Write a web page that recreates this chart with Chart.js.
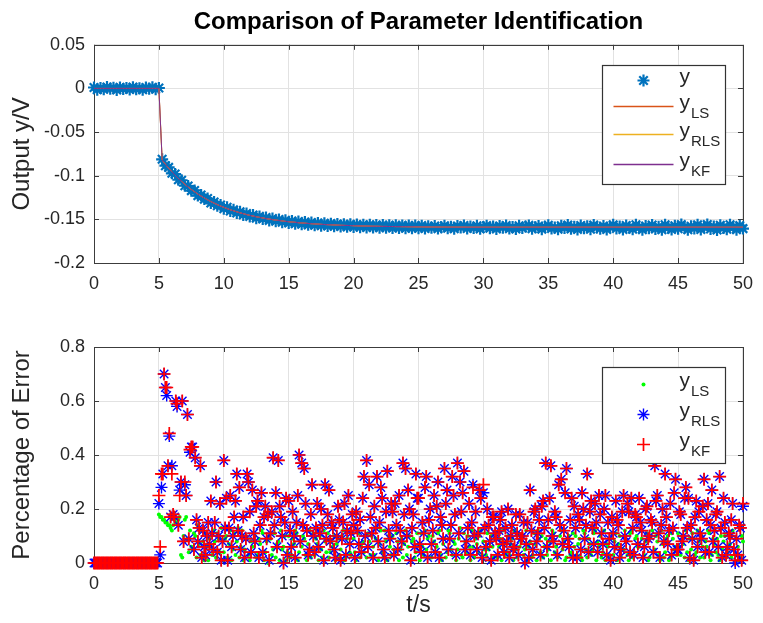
<!DOCTYPE html>
<html>
<head>
<meta charset="utf-8">
<title>Comparison of Parameter Identification</title>
<script src="https://cdn.jsdelivr.net/npm/chart.js@4.4.0/dist/chart.umd.min.js"></script>
<style>
  body { margin: 0; background: #fff; }
  #grafico-salida { position: absolute; left: 0; top: 0; }
  #grafico-error { position: absolute; left: 0; top: 300px; }
</style>
</head>
<body>
<canvas id="grafico-salida" width="763" height="300"></canvas>
<canvas id="grafico-error" width="763" height="323"></canvas>
<script>
// Paso de muestreo (s) de cada subgráfico
var pasoSalida = 0.25;
var pasoError = 0.1;

// Marcas de los ejes
var ticksTiempo = [0, 5, 10, 15, 20, 25, 30, 35, 40, 45, 50];
var ticksSalida = [-0.2, -0.15, -0.1, -0.05, 0, 0.05];
var ticksError = [0, 0.2, 0.4, 0.6, 0.8];

// Salida medida y (asteriscos), t = 0 .. 50 cada 0.25 s
var salidaMedida = [
    0.0011, -0.0014, 0.0006, -0.0009, 0.0016, -0.0003, 0.0008, -0.0017, 0.0012, -0.0006,
    0.0004, -0.0012, 0.0015, -0.0008, 0.0002, -0.0015, 0.0010, -0.0004, 0.0013, -0.0010, 0.0005,
    -0.0812, -0.0885, -0.0904, -0.0972, -0.0981, -0.1046, -0.1052, -0.1115, -0.1118, -0.1171,
    -0.1169, -0.1228, -0.1220, -0.1268, -0.1261, -0.1313, -0.1301, -0.1345, -0.1336, -0.1378,
    -0.1362, -0.1404, -0.1391, -0.1428, -0.1412, -0.1449, -0.1433, -0.1468, -0.1450, -0.1486,
    -0.1466, -0.1497, -0.1479, -0.1512, -0.1490, -0.1522, -0.1501, -0.1533, -0.1511, -0.1542,
    -0.1518, -0.1550, -0.1525, -0.1556, -0.1531, -0.1563, -0.1537, -0.1568, -0.1541, -0.1572,
    -0.1546, -0.1577, -0.1549, -0.1579, -0.1553, -0.1583, -0.1555, -0.1586, -0.1557, -0.1588,
    -0.1560, -0.1591, -0.1562, -0.1593, -0.1563, -0.1594, -0.1565, -0.1596, -0.1566, -0.1597,
    -0.1567, -0.1599, -0.1568, -0.1600, -0.1569, -0.1601, -0.1570, -0.1602, -0.1571, -0.1603,
    -0.1572, -0.1604, -0.1580, -0.1597, -0.1575, -0.1606, -0.1589, -0.1573, -0.1602, -0.1585,
    -0.1608, -0.1576, -0.1594, -0.1571, -0.1605, -0.1583, -0.1600, -0.1574, -0.1609, -0.1587,
    -0.1572, -0.1603, -0.1581, -0.1610, -0.1576, -0.1596, -0.1570, -0.1606, -0.1588, -0.1611,
    -0.1574, -0.1599, -0.1582, -0.1569, -0.1607, -0.1591, -0.1576, -0.1612, -0.1584, -0.1568,
    -0.1604, -0.1593, -0.1614, -0.1573, -0.1598, -0.1566, -0.1609, -0.1585, -0.1615, -0.1571,
    -0.1601, -0.1579, -0.1613, -0.1564, -0.1594, -0.1608, -0.1575, -0.1616, -0.1586, -0.1563,
    -0.1605, -0.1581, -0.1617, -0.1570, -0.1597, -0.1612, -0.1562, -0.1590, -0.1618, -0.1577,
    -0.1603, -0.1565, -0.1611, -0.1584, -0.1619, -0.1561, -0.1596, -0.1615, -0.1573, -0.1607,
    -0.1560, -0.1592, -0.1620, -0.1578, -0.1604, -0.1563, -0.1617, -0.1587, -0.1559, -0.1610,
    -0.1582, -0.1621, -0.1567, -0.1599, -0.1614, -0.1561, -0.1593, -0.1618, -0.1572, -0.1606
];

// Salida de los modelos identificados (LS, RLS y KF quedan superpuestas)
var salidaModelo = [
    0, 0, 0, 0, 0, 0, 0, 0, 0, 0,
    0, 0, 0, 0, 0, 0, 0, 0, 0, 0, 0,
    -0.0820, -0.0868, -0.0913, -0.0955, -0.0994, -0.1031, -0.1066, -0.1098, -0.1129, -0.1158,
    -0.1184, -0.1210, -0.1233, -0.1255, -0.1276, -0.1296, -0.1314, -0.1331, -0.1347, -0.1362,
    -0.1376, -0.1390, -0.1402, -0.1414, -0.1425, -0.1435, -0.1445, -0.1454, -0.1462, -0.1470,
    -0.1477, -0.1484, -0.1491, -0.1497, -0.1503, -0.1508, -0.1513, -0.1518, -0.1523, -0.1527,
    -0.1531, -0.1534, -0.1538, -0.1541, -0.1544, -0.1547, -0.1550, -0.1552, -0.1554, -0.1557,
    -0.1559, -0.1561, -0.1562, -0.1564, -0.1566, -0.1568, -0.1569, -0.1570, -0.1571, -0.1573,
    -0.1574, -0.1575, -0.1576, -0.1577, -0.1578, -0.1579, -0.1579, -0.1580, -0.1581, -0.1581,
    -0.1582, -0.1582, -0.1583, -0.1583, -0.1584, -0.1584, -0.1585, -0.1585, -0.1586, -0.1586,
    -0.1586, -0.1587, -0.1587, -0.1587, -0.1588, -0.1588, -0.1588, -0.1588, -0.1589, -0.1589,
    -0.1589, -0.1589, -0.1589, -0.1589, -0.1590, -0.1590, -0.1590, -0.1590, -0.1590, -0.1590,
    -0.159, -0.159, -0.159, -0.159, -0.159, -0.159, -0.159, -0.159, -0.159, -0.159,
    -0.159, -0.159, -0.159, -0.159, -0.159, -0.159, -0.159, -0.159, -0.159, -0.159,
    -0.159, -0.159, -0.159, -0.159, -0.159, -0.159, -0.159, -0.159, -0.159, -0.159,
    -0.159, -0.159, -0.159, -0.159, -0.159, -0.159, -0.159, -0.159, -0.159, -0.159,
    -0.159, -0.159, -0.159, -0.159, -0.159, -0.159, -0.159, -0.159, -0.159, -0.159,
    -0.159, -0.159, -0.159, -0.159, -0.159, -0.159, -0.159, -0.159, -0.159, -0.159,
    -0.159, -0.159, -0.159, -0.159, -0.159, -0.159, -0.159, -0.159, -0.159, -0.159,
    -0.159, -0.159, -0.159, -0.159, -0.159, -0.159, -0.159, -0.159, -0.159, -0.159
];

// Porcentaje de error, t = 0 .. 50 cada 0.1 s (una fila por segundo desde t = 5)
var errorLS = [
    0, 0, 0, 0, 0, 0, 0, 0, 0, 0,
    0, 0, 0, 0, 0, 0, 0, 0, 0, 0,
    0, 0, 0, 0, 0, 0, 0, 0, 0, 0,
    0, 0, 0, 0, 0, 0, 0, 0, 0, 0,
    0, 0, 0, 0, 0, 0, 0, 0, 0, 0,
    0.18, 0.17, 0.17, 0.16, 0.16, 0.15, 0.15, 0.14, 0.14, 0.13,
    0.12, 0.14, 0.16, 0.15, 0.15, 0.16, 0.17, 0.03, 0.02, 0.10,
    0.16, 0.17, 0.09, 0.04, 0.12, 0.06, 0.05, 0.11, 0.10, 0.02,
    0.14, 0.07, 0.03, 0.12, 0.08, 0.01, 0.11, 0.06, 0.01, 0.09,
    0.06, 0.03, 0.12, 0.08, 0.02, 0.11, 0.09, 0.04, 0.13, 0.01,
    0.04, 0.09, 0.10, 0.02, 0.07, 0.12, 0.01, 0.05, 0.11, 0.03,
    0.08, 0.13, 0.02, 0.06, 0.12, 0.01, 0.05, 0.10, 0.09, 0.03,
    0.01, 0.08, 0.06, 0.11, 0.10, 0.02, 0.03, 0.09, 0.07, 0.12,
    0.11, 0.01, 0.04, 0.08, 0.00, 0.10, 0.09, 0.03, 0.05, 0.11,
    0.02, 0.07, 0.08, 0.01, 0.12, 0.05, 0.06, 0.10, 0.01, 0.04,
    0.10, 0.02, 0.03, 0.09, 0.07, 0.12, 0.11, 0.01, 0.04, 0.08,
    0.06, 0.10, 0.09, 0.03, 0.01, 0.07, 0.12, 0.02, 0.05, 0.11,
    0.03, 0.09, 0.07, 0.01, 0.10, 0.05, 0.02, 0.12, 0.08, 0.04,
    0.11, 0.02, 0.04, 0.08, 0.06, 0.10, 0.01, 0.07, 0.09, 0.03,
    0.05, 0.10, 0.12, 0.01, 0.02, 0.09, 0.07, 0.04, 0.03, 0.11,
    0.09, 0.04, 0.01, 0.12, 0.11, 0.02, 0.06, 0.08, 0.04, 0.10,
    0.02, 0.11, 0.08, 0.03, 0.10, 0.06, 0.03, 0.09, 0.13, 0.01,
    0.07, 0.12, 0.04, 0.02, 0.12, 0.08, 0.01, 0.10, 0.06, 0.03,
    0.10, 0.05, 0.03, 0.11, 0.08, 0.01, 0.05, 0.09, 0.02, 0.07,
    0.12, 0.03, 0.06, 0.10, 0.01, 0.08, 0.09, 0.02, 0.04, 0.11,
    0.07, 0.01, 0.11, 0.06, 0.03, 0.12, 0.05, 0.09, 0.10, 0.02,
    0.02, 0.10, 0.08, 0.04, 0.06, 0.11, 0.12, 0.03, 0.01, 0.07,
    0.09, 0.02, 0.04, 0.12, 0.11, 0.05, 0.03, 0.08, 0.07, 0.01,
    0.05, 0.09, 0.13, 0.03, 0.02, 0.11, 0.08, 0.04, 0.10, 0.06,
    0.01, 0.12, 0.06, 0.02, 0.09, 0.07, 0.04, 0.10, 0.12, 0.03,
    0.08, 0.05, 0.03, 0.11, 0.05, 0.01, 0.10, 0.06, 0.02, 0.09,
    0.11, 0.02, 0.06, 0.09, 0.01, 0.12, 0.07, 0.03, 0.04, 0.10,
    0.03, 0.07, 0.09, 0.01, 0.12, 0.05, 0.02, 0.11, 0.06, 0.08,
    0.10, 0.03, 0.05, 0.12, 0.01, 0.06, 0.08, 0.02, 0.03, 0.11,
    0.07, 0.01, 0.12, 0.09, 0.04, 0.10, 0.02, 0.06, 0.09, 0.03,
    0.05, 0.08, 0.01, 0.12, 0.11, 0.04, 0.06, 0.02, 0.03, 0.10,
    0.12, 0.05, 0.08, 0.01, 0.02, 0.09, 0.10, 0.03, 0.04, 0.11,
    0.06, 0.10, 0.03, 0.07, 0.09, 0.02, 0.01, 0.12, 0.11, 0.05,
    0.02, 0.09, 0.07, 0.03, 0.05, 0.11, 0.12, 0.01, 0.08, 0.06,
    0.10, 0.02, 0.04, 0.12, 0.01, 0.07, 0.06, 0.03, 0.09, 0.11,
    0.03, 0.08, 0.11, 0.01, 0.07, 0.10, 0.02, 0.05, 0.05, 0.12,
    0.08, 0.03, 0.01, 0.11, 0.12, 0.02, 0.04, 0.09, 0.10, 0.06,
    0.06, 0.12, 0.09, 0.02, 0.03, 0.08, 0.11, 0.01, 0.02, 0.10,
    0.12, 0.04, 0.05, 0.10, 0.08, 0.03, 0.01, 0.12, 0.07, 0.02,
    0.04, 0.09, 0.10, 0.01, 0.02, 0.11, 0.09, 0.05, 0.06, 0.03,
    0.11, 0.06, 0.03, 0.10, 0.07, 0.02, 0.12, 0.04, 0.01, 0.09,
    0.05, 0.11, 0.09, 0.03, 0.04, 0.12, 0.08, 0.02, 0.10, 0.06,
    0.02, 0.08, 0.06, 0.12, 0.11, 0.01, 0.03, 0.09, 0.07, 0.04,
    0.09, 0.03, 0.01, 0.10, 0.05, 0.08, 0.10, 0.02, 0.04, 0.11,
    0.07, 0.02, 0.12, 0.05, 0.03, 0.09, 0.06, 0.01, 0.02, 0.10,
    0.08
];

var errorRLS = [
    0, 0, 0, 0, 0, 0, 0, 0, 0, 0,
    0, 0, 0, 0, 0, 0, 0, 0, 0, 0,
    0, 0, 0, 0, 0, 0, 0, 0, 0, 0,
    0, 0, 0, 0, 0, 0, 0, 0, 0, 0,
    0, 0, 0, 0, 0, 0, 0, 0, 0, 0,
    0.22, 0.03, 0.28, 0.33, 0.70, 0.65, 0.62, 0.36, 0.47, 0.17,
    0.36, 0.18, 0.17, 0.60, 0.58, 0.14, 0.27, 0.30, 0.60, 0.08,
    0.29, 0.25, 0.55, 0.09, 0.41, 0.43, 0.43, 0.05, 0.39, 0.16,
    0.08, 0.13, 0.36, 0.02, 0.12, 0.06, 0.03, 0.10, 0.15, 0.07,
    0.23, 0.11, 0.05, 0.15, 0.30, 0.04, 0.10, 0.22, 0.01, 0.08,
    0.38, 0.13, 0.24, 0.01, 0.13, 0.25, 0.06, 0.10, 0.17, 0.23,
    0.33, 0.12, 0.28, 0.05, 0.10, 0.17, 0.02, 0.09, 0.33, 0.30,
    0.19, 0.04, 0.27, 0.11, 0.08, 0.21, 0.23, 0.02, 0.14, 0.26,
    0.04, 0.17, 0.21, 0.09, 0.18, 0.01, 0.11, 0.19, 0.39, 0.14,
    0.26, 0.06, 0.38, 0.21, 0.17, 0.10, 0.00, 0.15, 0.24, 0.03,
    0.23, 0.12, 0.06, 0.19, 0.10, 0.02, 0.15, 0.25, 0.40, 0.08,
    0.37, 0.14, 0.35, 0.22, 0.12, 0.03, 0.05, 0.18, 0.29, 0.10,
    0.04, 0.13, 0.22, 0.06, 0.11, 0.20, 0.14, 0.01, 0.29, 0.09,
    0.18, 0.27, 0.08, 0.15, 0.13, 0.05, 0.02, 0.10, 0.21, 0.16,
    0.01, 0.09, 0.15, 0.22, 0.03, 0.12, 0.25, 0.07, 0.11, 0.18,
    0.14, 0.02, 0.19, 0.12, 0.07, 0.16, 0.04, 0.24, 0.32, 0.10,
    0.38, 0.06, 0.29, 0.17, 0.11, 0.02, 0.21, 0.13, 0.32, 0.08,
    0.15, 0.28, 0.24, 0.05, 0.02, 0.19, 0.34, 0.12, 0.09, 0.22,
    0.19, 0.03, 0.22, 0.14, 0.05, 0.25, 0.12, 0.08, 0.37, 0.18,
    0.35, 0.10, 0.27, 0.20, 0.01, 0.13, 0.18, 0.06, 0.33, 0.24,
    0.24, 0.07, 0.04, 0.15, 0.11, 0.28, 0.32, 0.02, 0.16, 0.20,
    0.07, 0.12, 0.25, 0.04, 0.21, 0.30, 0.02, 0.17, 0.14, 0.09,
    0.35, 0.22, 0.27, 0.05, 0.09, 0.14, 0.32, 0.25, 0.18, 0.03,
    0.37, 0.11, 0.30, 0.19, 0.26, 0.34, 0.05, 0.08, 0.13, 0.22,
    0.03, 0.15, 0.29, 0.10, 0.19, 0.05, 0.11, 0.27, 0.24, 0.02,
    0.26, 0.13, 0.06, 0.20, 0.14, 0.08, 0.01, 0.17, 0.17, 0.11,
    0.09, 0.03, 0.12, 0.16, 0.19, 0.07, 0.04, 0.13, 0.08, 0.20,
    0.02, 0.10, 0.14, 0.05, 0.06, 0.18, 0.11, 0.03, 0.18, 0.09,
    0.10, 0.15, 0.00, 0.07, 0.15, 0.02, 0.27, 0.12, 0.05, 0.19,
    0.20, 0.08, 0.11, 0.16, 0.03, 0.21, 0.23, 0.13, 0.37, 0.06,
    0.16, 0.24, 0.36, 0.10, 0.08, 0.19, 0.17, 0.03, 0.29, 0.14,
    0.31, 0.07, 0.12, 0.26, 0.35, 0.09, 0.06, 0.16, 0.24, 0.02,
    0.21, 0.13, 0.02, 0.18, 0.16, 0.05, 0.26, 0.20, 0.09, 0.14,
    0.33, 0.04, 0.19, 0.23, 0.13, 0.07, 0.22, 0.15, 0.04, 0.25,
    0.18, 0.11, 0.07, 0.20, 0.25, 0.03, 0.15, 0.09, 0.01, 0.17,
    0.11, 0.06, 0.23, 0.16, 0.14, 0.02, 0.05, 0.19, 0.25, 0.10,
    0.08, 0.22, 0.19, 0.04, 0.24, 0.13, 0.03, 0.18, 0.17, 0.07,
    0.24, 0.15, 0.12, 0.02, 0.06, 0.20, 0.21, 0.09, 0.10, 0.16,
    0.15, 0.04, 0.36, 0.23, 0.25, 0.11, 0.02, 0.14, 0.20, 0.08,
    0.33, 0.17, 0.07, 0.12, 0.22, 0.03, 0.13, 0.26, 0.31, 0.05,
    0.05, 0.19, 0.18, 0.08, 0.10, 0.24, 0.28, 0.13, 0.24, 0.02,
    0.14, 0.09, 0.01, 0.17, 0.23, 0.06, 0.19, 0.11, 0.09, 0.21,
    0.31, 0.04, 0.16, 0.22, 0.04, 0.14, 0.27, 0.08, 0.12, 0.18,
    0.19, 0.06, 0.32, 0.13, 0.02, 0.24, 0.15, 0.03, 0.06, 0.11,
    0.10, 0.16, 0.22, 0.05, 0.00, 0.09, 0.03, 0.14, 0.13, 0.01,
    0.21
];

var errorKF = [
    0, 0, 0, 0, 0, 0, 0, 0, 0, 0,
    0, 0, 0, 0, 0, 0, 0, 0, 0, 0,
    0, 0, 0, 0, 0, 0, 0, 0, 0, 0,
    0, 0, 0, 0, 0, 0, 0, 0, 0, 0,
    0, 0, 0, 0, 0, 0, 0, 0, 0, 0,
    0.25, 0.06, 0.33, 0.33, 0.70, 0.65, 0.65, 0.36, 0.48, 0.17,
    0.33, 0.18, 0.17, 0.60, 0.59, 0.14, 0.25, 0.30, 0.60, 0.08,
    0.30, 0.25, 0.55, 0.09, 0.42, 0.43, 0.43, 0.05, 0.39, 0.16,
    0.08, 0.13, 0.36, 0.02, 0.12, 0.06, 0.03, 0.10, 0.15, 0.07,
    0.23, 0.11, 0.05, 0.15, 0.30, 0.04, 0.10, 0.22, 0.01, 0.08,
    0.38, 0.13, 0.24, 0.01, 0.13, 0.25, 0.06, 0.10, 0.17, 0.23,
    0.33, 0.12, 0.28, 0.05, 0.10, 0.17, 0.02, 0.09, 0.33, 0.30,
    0.19, 0.04, 0.27, 0.11, 0.08, 0.21, 0.23, 0.02, 0.14, 0.26,
    0.04, 0.17, 0.21, 0.09, 0.18, 0.01, 0.11, 0.19, 0.39, 0.14,
    0.26, 0.06, 0.38, 0.21, 0.17, 0.10, 0.00, 0.15, 0.24, 0.03,
    0.23, 0.12, 0.06, 0.19, 0.10, 0.02, 0.15, 0.25, 0.40, 0.08,
    0.37, 0.14, 0.35, 0.22, 0.12, 0.03, 0.05, 0.18, 0.29, 0.10,
    0.04, 0.13, 0.22, 0.06, 0.11, 0.20, 0.14, 0.01, 0.29, 0.09,
    0.18, 0.27, 0.08, 0.15, 0.13, 0.05, 0.02, 0.10, 0.21, 0.16,
    0.01, 0.09, 0.15, 0.22, 0.03, 0.12, 0.25, 0.07, 0.11, 0.18,
    0.14, 0.02, 0.19, 0.12, 0.07, 0.16, 0.04, 0.24, 0.32, 0.10,
    0.38, 0.06, 0.29, 0.17, 0.11, 0.02, 0.21, 0.13, 0.32, 0.08,
    0.15, 0.28, 0.24, 0.05, 0.02, 0.19, 0.34, 0.12, 0.09, 0.22,
    0.19, 0.03, 0.22, 0.14, 0.05, 0.25, 0.12, 0.08, 0.37, 0.18,
    0.35, 0.10, 0.27, 0.20, 0.01, 0.13, 0.18, 0.06, 0.33, 0.24,
    0.24, 0.07, 0.04, 0.15, 0.11, 0.28, 0.32, 0.02, 0.16, 0.20,
    0.07, 0.12, 0.25, 0.04, 0.21, 0.30, 0.02, 0.17, 0.14, 0.09,
    0.35, 0.22, 0.27, 0.05, 0.09, 0.14, 0.32, 0.25, 0.18, 0.03,
    0.37, 0.11, 0.30, 0.19, 0.26, 0.34, 0.05, 0.08, 0.13, 0.22,
    0.03, 0.15, 0.28, 0.10, 0.19, 0.05, 0.11, 0.27, 0.24, 0.02,
    0.29, 0.13, 0.06, 0.20, 0.14, 0.08, 0.01, 0.17, 0.17, 0.11,
    0.09, 0.03, 0.12, 0.16, 0.19, 0.07, 0.04, 0.13, 0.08, 0.20,
    0.02, 0.10, 0.14, 0.05, 0.06, 0.18, 0.11, 0.03, 0.18, 0.09,
    0.10, 0.15, 0.00, 0.07, 0.15, 0.02, 0.27, 0.12, 0.05, 0.19,
    0.20, 0.08, 0.11, 0.16, 0.03, 0.21, 0.23, 0.13, 0.37, 0.06,
    0.16, 0.24, 0.36, 0.10, 0.08, 0.19, 0.17, 0.03, 0.29, 0.14,
    0.31, 0.07, 0.12, 0.26, 0.35, 0.09, 0.06, 0.16, 0.24, 0.02,
    0.21, 0.13, 0.02, 0.18, 0.16, 0.05, 0.26, 0.20, 0.09, 0.14,
    0.33, 0.04, 0.19, 0.23, 0.13, 0.07, 0.22, 0.15, 0.04, 0.25,
    0.18, 0.11, 0.07, 0.20, 0.25, 0.03, 0.15, 0.09, 0.01, 0.17,
    0.11, 0.06, 0.23, 0.16, 0.14, 0.02, 0.05, 0.19, 0.25, 0.10,
    0.08, 0.22, 0.19, 0.04, 0.24, 0.13, 0.03, 0.18, 0.17, 0.07,
    0.24, 0.15, 0.12, 0.02, 0.06, 0.20, 0.21, 0.09, 0.10, 0.16,
    0.15, 0.04, 0.36, 0.23, 0.25, 0.11, 0.02, 0.14, 0.20, 0.08,
    0.33, 0.17, 0.07, 0.12, 0.22, 0.03, 0.13, 0.26, 0.31, 0.05,
    0.05, 0.19, 0.18, 0.08, 0.10, 0.24, 0.28, 0.13, 0.24, 0.02,
    0.14, 0.09, 0.01, 0.17, 0.23, 0.06, 0.19, 0.11, 0.09, 0.21,
    0.31, 0.04, 0.16, 0.22, 0.04, 0.14, 0.27, 0.08, 0.12, 0.18,
    0.19, 0.06, 0.32, 0.13, 0.02, 0.24, 0.15, 0.03, 0.06, 0.11,
    0.10, 0.16, 0.22, 0.05, 0.01, 0.09, 0.03, 0.14, 0.13, 0.01,
    0.22
];

var fuente = '"Liberation Sans", Arial, Helvetica, sans-serif';
var colorTexto = '#262626';
var colorEjes = '#3c3c3c';
var colorRejilla = '#e2e2e2';

// Convierte una lista de valores en puntos {x, y} con su tiempo
function aPuntos(valores, paso) {
    return valores.map(function(v, i) {
        return { x: Math.round(i * paso * 100) / 100, y: v };
    });
}

// Dibuja una marca de punto (asterisco, cruz o punto)
function dibujarMarca(ctx, estilo, x, y, r, color, grosor) {
    ctx.save();
    ctx.strokeStyle = color;
    ctx.fillStyle = color;
    ctx.lineWidth = grosor;
    ctx.beginPath();
    if (estilo === 'circle') {
        ctx.arc(x, y, r, 0, Math.PI * 2);
        ctx.fill();
    } else {
        ctx.moveTo(x - r, y); ctx.lineTo(x + r, y);
        ctx.moveTo(x, y - r); ctx.lineTo(x, y + r);
        if (estilo === 'star') {
            var d = r * Math.SQRT1_2;
            ctx.moveTo(x - d, y - d); ctx.lineTo(x + d, y + d);
            ctx.moveTo(x - d, y + d); ctx.lineTo(x + d, y - d);
        }
        ctx.stroke();
    }
    ctx.restore();
}

// Caja de ejes con las marcas hacia dentro (estilo MATLAB)
var pluginMarco = {
    id: 'marco',
    beforeDatasetsDraw: function(chart) {
        var ctx = chart.ctx, a = chart.chartArea;
        var ex = chart.scales.x, ey = chart.scales.y;
        ctx.save();
        ctx.strokeStyle = colorEjes;
        ctx.lineWidth = 1;
        ctx.beginPath();
        ex.ticks.forEach(function(t) {
            var px = Math.round(ex.getPixelForValue(t.value)) + 0.5;
            ctx.moveTo(px, a.bottom); ctx.lineTo(px, a.bottom - 5);
            ctx.moveTo(px, a.top); ctx.lineTo(px, a.top + 5);
        });
        ey.ticks.forEach(function(t) {
            var py = Math.round(ey.getPixelForValue(t.value)) + 0.5;
            ctx.moveTo(a.left, py); ctx.lineTo(a.left + 5, py);
            ctx.moveTo(a.right, py); ctx.lineTo(a.right - 5, py);
        });
        ctx.stroke();
        ctx.strokeRect(Math.round(a.left) + 0.5, Math.round(a.top) + 0.5,
            Math.round(a.right - a.left), Math.round(a.bottom - a.top));
        ctx.restore();
    }
};

// Leyenda con subíndices dentro del área del gráfico
var pluginLeyenda = {
    id: 'leyenda',
    afterDraw: function(chart, args, opts) {
        var ctx = chart.ctx, a = chart.chartArea;
        var x0 = Math.round(a.right - opts.derecha - opts.ancho) + 0.5;
        var y0 = Math.round(a.top + opts.arriba) + 0.5;
        ctx.save();
        ctx.fillStyle = '#fff';
        ctx.fillRect(x0, y0, opts.ancho, opts.alto);
        ctx.strokeStyle = '#333';
        ctx.lineWidth = 1.2;
        ctx.strokeRect(x0, y0, opts.ancho, opts.alto);
        opts.items.forEach(function(it) {
            var ds = chart.data.datasets[it.dataset];
            var cy = y0 + it.fila;
            if (ds.showLine) {
                ctx.strokeStyle = ds.borderColor;
                ctx.lineWidth = 1.5;
                ctx.beginPath();
                ctx.moveTo(x0 + 11, cy); ctx.lineTo(x0 + 71, cy);
                ctx.stroke();
            } else {
                dibujarMarca(ctx, ds.pointStyle, x0 + 41, cy, ds.pointRadius,
                    ds.pointStyle === 'circle' ? ds.backgroundColor : ds.borderColor, ds.borderWidth);
            }
            ctx.fillStyle = colorTexto;
            ctx.textBaseline = 'middle';
            ctx.textAlign = 'left';
            ctx.font = '21px ' + fuente;
            ctx.fillText('y', x0 + 77, cy - 3);
            var w = ctx.measureText('y').width;
            if (it.sub) {
                ctx.font = '15px ' + fuente;
                ctx.fillText(it.sub, x0 + 77 + w + 1, cy + 7);
            }
        });
        ctx.restore();
    }
};

function ejeTiempo(titulo) {
    return {
        type: 'linear',
        min: 0,
        max: 50,
        afterBuildTicks: function(s) { s.ticks = ticksTiempo.map(function(v) { return { value: v }; }); },
        afterFit: function(s) { s.height = titulo ? 60 : 37; },
        grid: { color: colorRejilla, drawTicks: false },
        border: { display: false },
        ticks: {
            padding: 10,
            color: colorTexto,
            font: { family: fuente, size: 18 },
            maxRotation: 0,
            callback: function(v) { return String(v); }
        },
        title: {
            display: !!titulo,
            text: titulo || '',
            color: colorTexto,
            font: { family: fuente, size: 23 },
            padding: { top: 0, bottom: 4 }
        }
    };
}

function ejeValor(titulo, marcas) {
    return {
        type: 'linear',
        min: marcas[0],
        max: marcas[marcas.length - 1],
        afterBuildTicks: function(s) { s.ticks = marcas.map(function(v) { return { value: v }; }); },
        afterFit: function(s) { s.width = 94; },
        grid: { color: colorRejilla, drawTicks: false },
        border: { display: false },
        ticks: {
            padding: 9,
            color: colorTexto,
            font: { family: fuente, size: 18 },
            callback: function(v) { return String(v); }
        },
        title: {
            display: true,
            text: titulo,
            color: colorTexto,
            font: { family: fuente, size: 24 },
            padding: { top: 8, bottom: 0 }
        }
    };
}

// Gráfico superior: salida medida y salidas identificadas
new Chart(document.getElementById('grafico-salida'), {
    type: 'scatter',
    data: {
        datasets: [
            { label: 'y', data: aPuntos(salidaMedida, pasoSalida), pointStyle: 'star', pointRadius: 6,
              borderColor: '#0072bd', backgroundColor: '#0072bd', borderWidth: 2.2, order: 3, clip: false },
            { label: 'yLS', data: aPuntos(salidaModelo, pasoSalida), showLine: true, pointRadius: 0,
              borderColor: '#d95319', borderWidth: 1, order: 2 },
            { label: 'yRLS', data: aPuntos(salidaModelo, pasoSalida), showLine: true, pointRadius: 0,
              borderColor: '#edb120', borderWidth: 1, order: 1 },
            { label: 'yKF', data: aPuntos(salidaModelo, pasoSalida), showLine: true, pointRadius: 0,
              borderColor: '#7e2f8e', borderWidth: 1, order: 0 }
        ]
    },
    options: {
        responsive: false,
        animation: false,
        devicePixelRatio: 1,
        layout: { padding: { left: 0, right: 14, top: 0, bottom: 0 } },
        scales: {
            x: ejeTiempo(''),
            y: ejeValor('Output y/V', ticksSalida)
        },
        plugins: {
            legend: { display: false },
            tooltip: { enabled: false },
            title: {
                display: true,
                fullSize: false,
                text: 'Comparison of Parameter Identification',
                color: '#000',
                font: { family: fuente, size: 24, weight: 'bold' },
                padding: { top: 8, bottom: 8 }
            },
            leyenda: {
                derecha: 18, arriba: 20, ancho: 123, alto: 119,
                items: [
                    { dataset: 0, sub: '', fila: 15 },
                    { dataset: 1, sub: 'LS', fila: 41 },
                    { dataset: 2, sub: 'RLS', fila: 69 },
                    { dataset: 3, sub: 'KF', fila: 99 }
                ]
            }
        }
    },
    plugins: [pluginMarco, pluginLeyenda]
});

// Gráfico inferior: porcentaje de error de cada método
new Chart(document.getElementById('grafico-error'), {
    type: 'scatter',
    data: {
        datasets: [
            { label: 'yLS', data: aPuntos(errorLS, pasoError), pointStyle: 'circle', pointRadius: 2,
              backgroundColor: '#00ff00', borderColor: '#00ff00', borderWidth: 0, order: 2, clip: false },
            { label: 'yRLS', data: aPuntos(errorRLS, pasoError), pointStyle: 'star', pointRadius: 6,
              borderColor: '#0000ff', backgroundColor: '#0000ff', borderWidth: 1.4, order: 1, clip: false },
            { label: 'yKF', data: aPuntos(errorKF, pasoError), pointStyle: 'cross', pointRadius: 6.5,
              borderColor: '#ff0000', backgroundColor: '#ff0000', borderWidth: 1.7, order: 0, clip: false }
        ]
    },
    options: {
        responsive: false,
        animation: false,
        devicePixelRatio: 1,
        layout: { padding: { left: 0, right: 14, top: 47, bottom: 0 } },
        scales: {
            x: ejeTiempo('t/s'),
            y: ejeValor('Percentage of Error', ticksError)
        },
        plugins: {
            legend: { display: false },
            tooltip: { enabled: false },
            leyenda: {
                derecha: 18, arriba: 20, ancho: 123, alto: 96,
                items: [
                    { dataset: 0, sub: 'LS', fila: 17 },
                    { dataset: 1, sub: 'RLS', fila: 47 },
                    { dataset: 2, sub: 'KF', fila: 77 }
                ]
            }
        }
    },
    plugins: [pluginMarco, pluginLeyenda]
});
</script>
</body>
</html>
